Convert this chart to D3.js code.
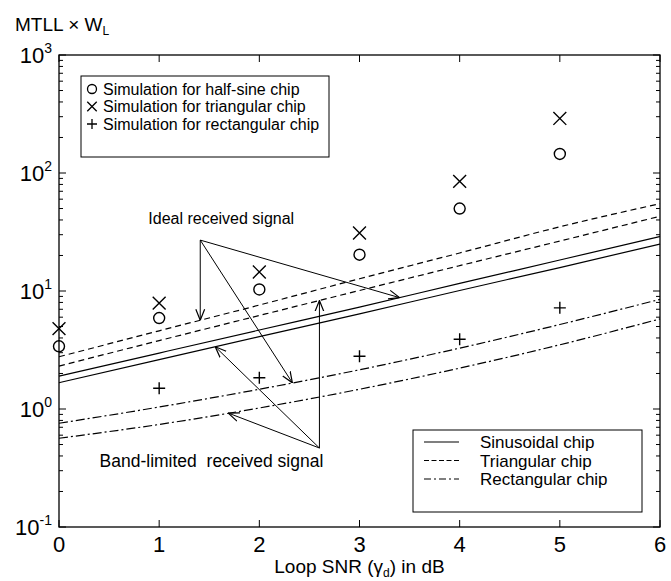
<!DOCTYPE html>
<html>
<head>
<meta charset="utf-8">
<script src="https://cdn.jsdelivr.net/npm/d3@7"></script>
<style>
  body { margin: 0; background: #fff; }
  svg { font-family: "Liberation Sans", Arial, sans-serif; }
</style>
</head>
<body>
<svg id="drawing_region"></svg>
<script>
// x ticks (loop SNR in dB)
const snrTicks = [0, 1, 2, 3, 4, 5, 6];
// y decades
const decadeExp = [-1, 0, 1, 2, 3];

// simulation points
const simSnr = [0, 1, 2, 3, 4, 5];
const simHalfSine = [3.4, 5.9, 10.3, 20.3, 50, 145];
const simTriangular = [4.8, 7.9, 14.5, 31, 85, 290];
const simRectSnr = [1, 2, 3, 4, 5];
const simRectangular = [1.5, 1.84, 2.8, 3.9, 7.2];

// analytic curves, sampled at these SNR values
const curveSnr = [0, 1, 2, 3, 4, 5, 6];
const triIdeal = [2.77, 4.6, 7.6, 12.7, 21, 35, 55];
const triBand = [2.31, 3.8, 6.2, 10.1, 16.4, 26.5, 43];
const sinIdeal = [1.90, 2.98, 4.67, 7.3, 11.6, 18.3, 29];
const sinBand = [1.67, 2.62, 4.1, 6.4, 10.1, 15.8, 25];
const rectIdeal = [0.757, 1.04, 1.47, 2.15, 3.28, 5.2, 8.5];
const rectBand = [0.565, 0.74, 1.02, 1.47, 2.22, 3.5, 5.8];

const curveNames = ["sinIdeal", "sinBand", "triIdeal", "triBand", "rectIdeal", "rectBand"];
const curveValues = [sinIdeal, sinBand, triIdeal, triBand, rectIdeal, rectBand];
const curveDash = ["none", "none", "6,4", "6,4", "9,3,2,3", "9,3,2,3"];

const simLegend = ["Simulation for half-sine chip", "Simulation for triangular chip", "Simulation for rectangular chip"];
const lineLegend = ["Sinusoidal chip", "Triangular chip", "Rectangular chip"];

const config = {
    width: 671,
    height: 581,
    margin: {top: 55, right: 11, bottom: 54, left: 59}
};

const svg = d3.select('#drawing_region')
    .attr('width', config.width)
    .attr('height', config.height);

const inner_width = config.width - config.margin.left - config.margin.right;
const inner_height = config.height - config.margin.top - config.margin.bottom;

const chart = svg.append('g')
    .attr('transform', `translate(${config.margin.left}, ${config.margin.top})`);

const xscale = d3.scaleLinear().domain([0, 6]).range([0, inner_width]);
const yscale = d3.scaleLog().domain([0.1, 1000]).range([inner_height, 0]);

// arrow head
svg.append('defs').append('marker')
    .attr('id', 'arrow')
    .attr('viewBox', '0 0 10 10')
    .attr('refX', 10).attr('refY', 5)
    .attr('markerWidth', 11).attr('markerHeight', 11)
    .attr('markerUnits', 'userSpaceOnUse')
    .attr('orient', 'auto')
    .append('path')
    .attr('d', 'M0,1 L10,5 L0,9')
    .attr('fill', 'none')
    .attr('stroke', '#000')
    .attr('stroke-width', 1.1);

// ticks (inward, all four sides)
const minorVals = [];
decadeExp.slice(0, -1).forEach(e => {
    for (let k = 2; k <= 9; k++) minorVals.push(k * Math.pow(10, e));
});
const majorVals = decadeExp.map(e => Math.pow(10, e));

const axisColor = '#000';
const yTicks = chart.append('g');
[0, inner_width].forEach((x0, i) => {
    const dir = i === 0 ? 1 : -1;
    yTicks.selectAll(null).data(majorVals).join('line')
        .attr('x1', x0).attr('x2', x0 + dir * 7)
        .attr('y1', d => yscale(d)).attr('y2', d => yscale(d))
        .attr('stroke', axisColor).attr('stroke-width', 1);
    yTicks.selectAll(null).data(minorVals).join('line')
        .attr('x1', x0).attr('x2', x0 + dir * 4)
        .attr('y1', d => yscale(d)).attr('y2', d => yscale(d))
        .attr('stroke', axisColor).attr('stroke-width', 1);
});
const xTicks = chart.append('g');
[0, inner_height].forEach((y0, i) => {
    const dir = i === 0 ? 1 : -1;
    xTicks.selectAll(null).data(snrTicks).join('line')
        .attr('x1', d => xscale(d)).attr('x2', d => xscale(d))
        .attr('y1', y0).attr('y2', y0 + dir * 7)
        .attr('stroke', axisColor).attr('stroke-width', 1);
});

chart.append('rect')
    .attr('width', inner_width).attr('height', inner_height)
    .attr('fill', 'none').attr('stroke', '#000').attr('stroke-width', 1.3);

// tick labels
chart.append('g').selectAll('text').data(snrTicks).join('text')
    .attr('x', d => xscale(d))
    .attr('y', inner_height + 25)
    .attr('text-anchor', 'middle')
    .attr('font-size', 22)
    .text(d => d);

const ylab = chart.append('g').selectAll('text').data(decadeExp).join('text')
    .attr('x', -7)
    .attr('y', d => yscale(Math.pow(10, d)) + 8)
    .attr('text-anchor', 'end')
    .attr('font-size', 22);
ylab.append('tspan').text('10');
ylab.append('tspan').attr('dy', -10).attr('font-size', 14).text(d => d);

// axis titles
const xt = svg.append('text')
    .attr('x', config.margin.left + inner_width / 2)
    .attr('y', 573)
    .attr('text-anchor', 'middle')
    .attr('font-size', 19);
xt.append('tspan').text('Loop SNR (');
xt.append('tspan').text('\u03b3');
xt.append('tspan').attr('font-size', 12).attr('dy', 4).text('d');
xt.append('tspan').attr('dy', -4).text(') in dB');

const yt = svg.append('text')
    .attr('x', 15).attr('y', 31)
    .attr('font-size', 19);
yt.append('tspan').text('MTLL \u00d7 W');
yt.append('tspan').attr('font-size', 12).attr('dy', 4).text('L');

// curves
const line = d3.line()
    .x((d, i) => xscale(curveSnr[i]))
    .y(d => yscale(d))
    .curve(d3.curveMonotoneX);

chart.append('g').selectAll('path').data(curveValues).join('path')
    .attr('d', d => line(d))
    .attr('fill', 'none')
    .attr('stroke', '#000')
    .attr('stroke-width', 1.2)
    .attr('stroke-dasharray', (d, i) => curveDash[i]);

// simulation markers
const marks = chart.append('g').attr('stroke', '#000').attr('fill', 'none').attr('stroke-width', 1.4);
marks.selectAll('circle').data(simHalfSine).join('circle')
    .attr('cx', (d, i) => xscale(simSnr[i]))
    .attr('cy', d => yscale(d))
    .attr('r', 5.5);
const cross = d3.symbol().type(d3.symbolX).size(110);
marks.selectAll('.xm').data(simTriangular).join('path')
    .attr('class', 'xm')
    .attr('d', cross)
    .attr('transform', (d, i) => `translate(${xscale(simSnr[i])}, ${yscale(d)})`);
marks.selectAll('.pm').data(simRectangular).join('path')
    .attr('class', 'pm')
    .attr('transform', (d, i) => `translate(${xscale(simRectSnr[i])}, ${yscale(d)})`)
    .attr('d', 'M-6,0H6M0,-6V6');

// annotations: arrows pointing onto curves
function curveAt(name, x) {
    const v = curveValues[curveNames.indexOf(name)];
    const i = Math.min(Math.floor(x), curveSnr.length - 2);
    const t = x - curveSnr[i];
    return Math.exp(Math.log(v[i]) * (1 - t) + Math.log(v[i + 1]) * t);
}

const idealSrc = {x: 1.41, y: 27};
const idealTips = [["triIdeal", 1.41], ["rectIdeal", 2.33], ["sinIdeal", 3.4]];
const bandSrc = {x: 2.6, y: 0.467};
const bandTips = [["sinBand", 1.56], ["rectBand", 1.69], ["triBand", 2.6]];

const ann = chart.append('g').attr('stroke', '#000').attr('stroke-width', 1);
[[idealSrc, idealTips], [bandSrc, bandTips]].forEach(([src, tips]) => {
    ann.selectAll(null).data(tips).join('line')
        .attr('x1', xscale(src.x)).attr('y1', yscale(src.y))
        .attr('x2', d => xscale(d[1])).attr('y2', d => yscale(curveAt(d[0], d[1])))
        .attr('marker-end', 'url(#arrow)');
});

chart.append('text')
    .attr('x', xscale(idealSrc.x) + 21).attr('y', yscale(idealSrc.y) - 16)
    .attr('text-anchor', 'middle').attr('font-size', 16)
    .text('Ideal received signal');
chart.append('text')
    .attr('x', xscale(bandSrc.x) - 108).attr('y', yscale(bandSrc.y) + 19)
    .attr('text-anchor', 'middle').attr('font-size', 17.5)
    .attr('xml:space', 'preserve')
    .text('Band-limited  received signal');

// legend for simulations
const leg1 = svg.append('g').attr('transform', 'translate(81, 76)');
leg1.append('rect').attr('width', 248).attr('height', 81)
    .attr('fill', '#fff').attr('stroke', '#000').attr('stroke-width', 1);
const leg1Rows = leg1.selectAll('g').data(simLegend).join('g')
    .attr('transform', (d, i) => `translate(0, ${13 + i * 17.5})`);
leg1Rows.append('text').attr('x', 22).attr('y', 5.5).attr('font-size', 16).text(d => d);
leg1Rows.filter((d, i) => i === 0).append('circle')
    .attr('cx', 11).attr('r', 4.5).attr('fill', 'none').attr('stroke', '#000').attr('stroke-width', 1.3);
leg1Rows.filter((d, i) => i === 1).append('path')
    .attr('transform', 'translate(11,0)').attr('d', d3.symbol().type(d3.symbolX).size(60))
    .attr('fill', 'none').attr('stroke', '#000').attr('stroke-width', 1.3);
leg1Rows.filter((d, i) => i === 2).append('path')
    .attr('d', 'M6,0H16M11,-5V5')
    .attr('fill', 'none').attr('stroke', '#000').attr('stroke-width', 1.3);

// legend for curves
const leg2 = svg.append('g').attr('transform', 'translate(413, 430)');
leg2.append('rect').attr('width', 229).attr('height', 82)
    .attr('fill', '#fff').attr('stroke', '#000').attr('stroke-width', 1);
const leg2Rows = leg2.selectAll('g').data(lineLegend).join('g')
    .attr('transform', (d, i) => `translate(0, ${12 + i * 18.5})`);
leg2Rows.append('line').attr('x1', 11).attr('x2', 46)
    .attr('stroke', '#000').attr('stroke-width', 1.2)
    .attr('stroke-dasharray', (d, i) => ['none', '5,2.5', '7,3,2,3'][i]);
leg2Rows.append('text').attr('x', 67).attr('y', 6).attr('font-size', 17).text(d => d);
</script>
</body>
</html>
